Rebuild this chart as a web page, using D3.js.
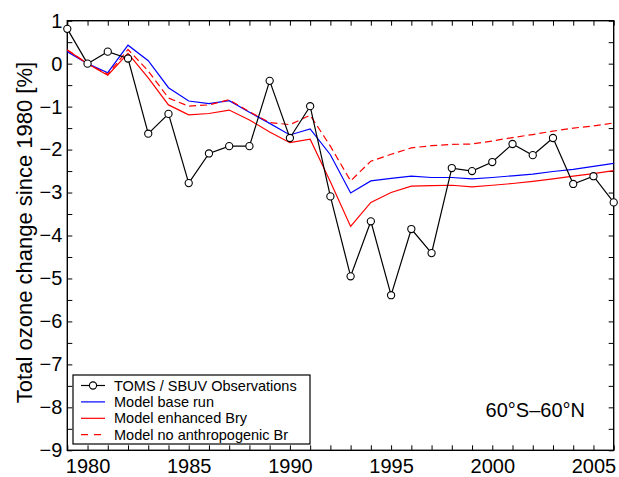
<!DOCTYPE html>
<html>
<head>
<meta charset="utf-8">
<script src="https://cdn.jsdelivr.net/npm/d3@7"></script>
<style>
  html, body { margin: 0; padding: 0; background: #fff; }
  svg { display: block; font-family: "Liberation Sans", Arial, Helvetica, sans-serif; }
</style>
</head>
<body>
<svg id="chart" width="619" height="477"></svg>
<script>
// ---- data ----
const years = d3.range(1979, 2007);
const obsValues = [0.81, 0.0, 0.28, 0.12, -1.63, -1.17, -2.78, -2.09, -1.92, -1.92, -0.40, -1.73, -0.99, -3.09,
  -4.95, -3.67, -5.39, -3.85, -4.41, -2.43, -2.50, -2.29, -1.87, -2.13, -1.73, -2.80, -2.62, -3.23];
const baseRun = [0.28, 0.0, -0.21, 0.43, 0.07, -0.56, -0.87, -0.93, -0.86, -1.13, -1.39, -1.66, -1.52, -2.12,
  -3.01, -2.73, -2.67, -2.62, -2.65, -2.65, -2.68, -2.65, -2.61, -2.57, -2.51, -2.46, -2.39, -2.32];
const enhancedBry = [0.32, 0.0, -0.27, 0.24, -0.33, -0.96, -1.19, -1.16, -1.08, -1.31, -1.59, -1.84, -1.76, -2.75,
  -3.79, -3.23, -3.00, -2.85, -2.84, -2.83, -2.87, -2.83, -2.79, -2.74, -2.68, -2.62, -2.56, -2.49];
const noAnthroBr = [0.32, 0.0, -0.25, 0.33, -0.17, -0.80, -0.99, -0.96, -0.84, -1.12, -1.37, -1.42, -1.20, -1.92,
  -2.73, -2.27, -2.11, -1.96, -1.91, -1.88, -1.87, -1.80, -1.72, -1.65, -1.57, -1.50, -1.45, -1.38];
const xTickLabels = [1980, 1985, 1990, 1995, 2000, 2005];
const yTickLabels = [1, 0, -1, -2, -3, -4, -5, -6, -7, -8, -9];
const legendLabels = ["TOMS / SBUV Observations", "Model base run", "Model enhanced Bry", "Model no anthropogenic Br"];
const yLabel = "Total ozone change since 1980 [%]";
const regionLabel = "60°S–60°N";

// ---- layout ----
const L = 67.3, R = 613.7, T = 20.7, B = 450.3;
const svg = d3.select("#chart");
const x = d3.scaleLinear().domain([1979, 2006]).range([L, R]);
const y = d3.scaleLinear().domain([-9, 1]).range([B, T]);
const fmtMinus = v => (v < 0 ? "\u2212" + Math.abs(v) : String(v));

const halfTicks = d3.range(-9, 1.01, 0.5);

// bottom axis
const gx = svg.append("g").attr("transform", `translate(0,${B})`)
  .call(d3.axisBottom(x).tickValues(years).tickSizeInner(-5).tickSizeOuter(0).tickPadding(9)
    .tickFormat(d => xTickLabels.includes(d) ? String(d) : ""));
// top axis
const gxt = svg.append("g").attr("transform", `translate(0,${T})`)
  .call(d3.axisTop(x).tickValues(years).tickSizeInner(-5).tickSizeOuter(0).tickFormat(() => ""));
// left axis
const gy = svg.append("g").attr("transform", `translate(${L},0)`)
  .call(d3.axisLeft(y).tickValues(halfTicks).tickSizeInner(-5).tickSizeOuter(0).tickPadding(5)
    .tickFormat(d => yTickLabels.includes(d) ? fmtMinus(d) : ""));
// right axis
const gyr = svg.append("g").attr("transform", `translate(${R},0)`)
  .call(d3.axisRight(y).tickValues(halfTicks).tickSizeInner(-5).tickSizeOuter(0).tickFormat(() => ""));

[gx, gxt, gy, gyr].forEach(g => {
  g.select(".domain").remove();
  g.selectAll(".tick line").attr("stroke", "#000").attr("stroke-width", 1);
  g.selectAll("text").attr("font-size", 20).attr("fill", "#000")
    .attr("font-family", '"Liberation Sans", Arial, sans-serif');
});

// frame
svg.append("rect").attr("x", L).attr("y", T).attr("width", R - L).attr("height", B - T)
  .attr("fill", "none").attr("stroke", "#000").attr("stroke-width", 1.4);

// y label
svg.append("text")
  .attr("transform", `translate(24,${(T + B) / 2 - 3}) rotate(-90)`)
  .attr("text-anchor", "middle").attr("dominant-baseline", "central")
  .attr("font-size", 22).attr("fill", "#000").text(yLabel);

// lines
const line = d3.line().x((d, i) => x(years[i])).y(d => y(d));
svg.append("path").datum(baseRun).attr("d", line)
  .attr("fill", "none").attr("stroke", "#0000ff").attr("stroke-width", 1.2);
svg.append("path").datum(enhancedBry).attr("d", line)
  .attr("fill", "none").attr("stroke", "#ff0000").attr("stroke-width", 1.2);
svg.append("path").datum(noAnthroBr).attr("d", line)
  .attr("fill", "none").attr("stroke", "#ff0000").attr("stroke-width", 1.2).attr("stroke-dasharray", "7,4");
svg.append("path").datum(obsValues).attr("d", line)
  .attr("fill", "none").attr("stroke", "#000").attr("stroke-width", 1.2);
svg.append("g").selectAll("circle").data(obsValues).join("circle")
  .attr("cx", (d, i) => x(years[i])).attr("cy", d => y(d)).attr("r", 3.6)
  .attr("fill", "#fff").attr("stroke", "#000").attr("stroke-width", 1.1);

// region label
svg.append("text").attr("x", 585).attr("y", 417).attr("text-anchor", "end")
  .attr("font-size", 20).attr("fill", "#000").text(regionLabel);

// legend
const lg = svg.append("g");
lg.append("rect").attr("x", 73).attr("y", 375).attr("width", 237).attr("height", 69)
  .attr("fill", "#fff").attr("stroke", "#000").attr("stroke-width", 1.2);
const legendStyles = [
  { color: "#000", dash: null, marker: true },
  { color: "#0000ff", dash: null, marker: false },
  { color: "#ff0000", dash: null, marker: false },
  { color: "#ff0000", dash: "7,6", marker: false }
];
legendLabels.forEach((lab, i) => {
  const cy = 385.5 + i * 16.4;
  const st = legendStyles[i];
  lg.append("line").attr("x1", 81).attr("x2", 105).attr("y1", cy).attr("y2", cy)
    .attr("stroke", st.color).attr("stroke-width", 1.2)
    .attr("stroke-dasharray", st.dash);
  if (st.marker) {
    lg.append("circle").attr("cx", 93).attr("cy", cy).attr("r", 3.6)
      .attr("fill", "#fff").attr("stroke", "#000").attr("stroke-width", 1.1);
  }
  lg.append("text").attr("x", 114).attr("y", cy).attr("dy", "0.35em")
    .attr("font-size", 14.5).attr("fill", "#000").text(lab);
});
</script>
</body>
</html>
